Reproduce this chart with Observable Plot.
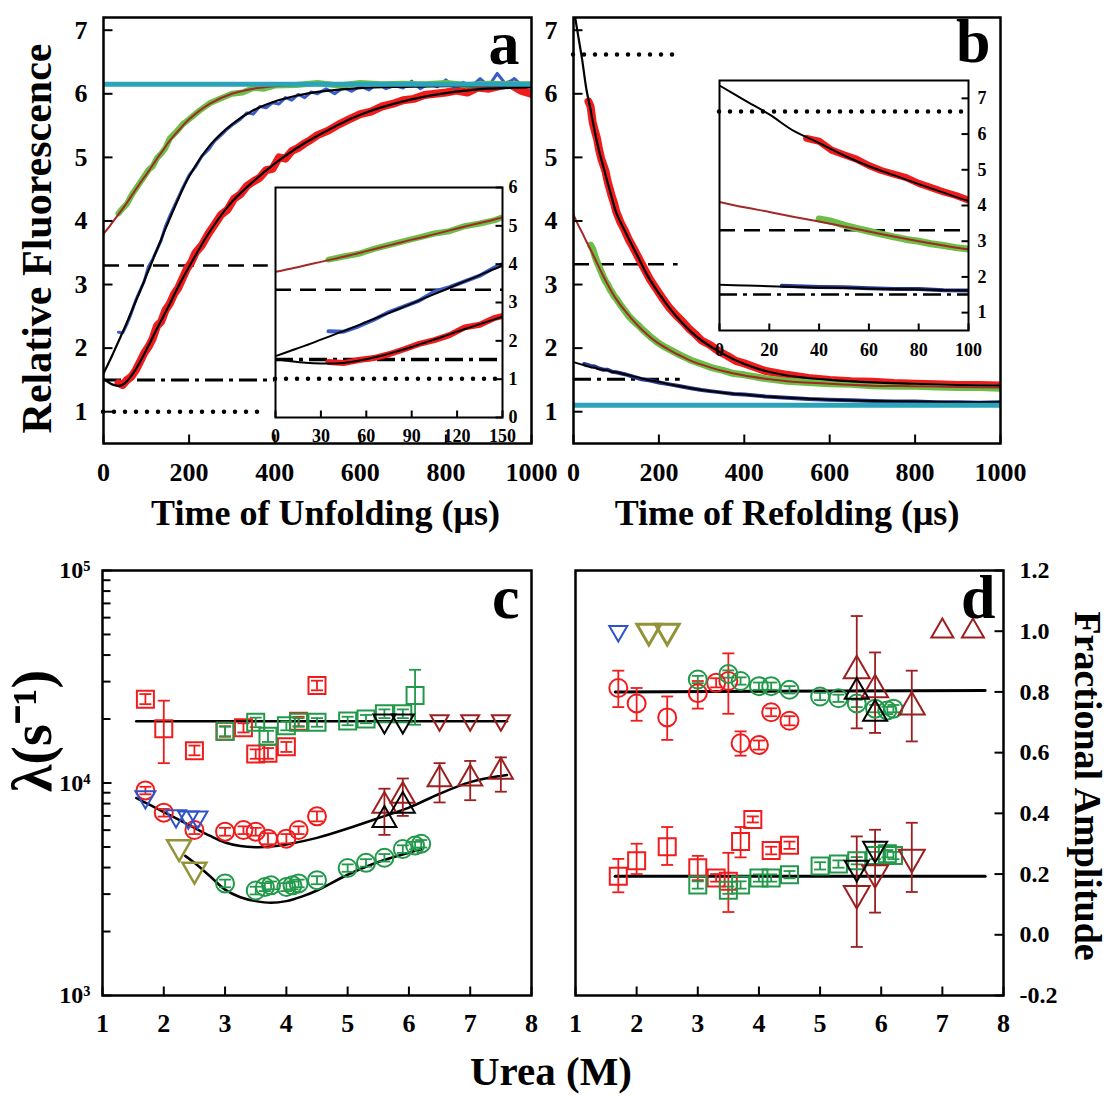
<!DOCTYPE html>
<html><head><meta charset="utf-8">
<script src="https://cdn.jsdelivr.net/npm/d3@7"></script>
<script src="https://cdn.jsdelivr.net/npm/@observablehq/plot@0.6"></script>
<style>
body{margin:0;background:#fff;}
#fig{position:relative;width:1110px;height:1096px;background:#fff;overflow:hidden;}
#urea{position:absolute;left:401px;width:300px;top:1047px;height:42px;line-height:42px;text-align:center;
  font:bold 41px 'Liberation Serif','Times New Roman',serif;color:#000;white-space:nowrap;}
</style></head><body><div id="fig"><div id="urea"></div></div>
<script>
// ---------------- Panel a (unfolding kinetics) ----------------
const aFitT = [0,10,20,30,40,50,60,70,80,90,100,110,120,130,140,150,175,200,250,300,350,400,450,500,600,700,800,900,1000];
const aRedFit = [1.52,1.47,1.43,1.41,1.41,1.45,1.52,1.61,1.72,1.84,1.97,2.10,2.24,2.37,2.50,2.63,2.97,3.28,3.85,4.30,4.62,4.90,5.14,5.34,5.67,5.88,6.01,6.08,6.10];
const aBlueFit = [1.60,1.74,1.88,2.03,2.18,2.33,2.49,2.65,2.81,2.97,3.14,3.30,3.47,3.63,3.80,3.96,4.35,4.70,5.20,5.52,5.74,5.88,5.97,6.03,6.09,6.11,6.12,6.12,6.12];
const aGreenFit = [3.80,3.88,3.97,4.06,4.15,4.24,4.34,4.44,4.54,4.64,4.73,4.83,4.93,5.03,5.12,5.22,5.42,5.60,5.85,6.00,6.08,6.12,6.14,6.15,6.15,6.15,6.15,6.15,6.15];
const aGreenT = [35,45,55,65,75,85,95,105,115,125,135,145,155,170,185,200,225,250,275,300,325,350,375,400,450,500,550,600,650,700,750,800,850,900,950,1000];
const aGreenF = [4.12,4.20,4.27,4.40,4.50,4.60,4.70,4.80,4.86,4.99,5.06,5.15,5.30,5.40,5.52,5.60,5.74,5.86,5.93,6.00,6.02,6.09,6.08,6.13,6.14,6.17,6.13,6.17,6.15,6.16,6.15,6.17,6.14,6.16,6.15,6.15];
const aBlueT = [35,45,55,65,75,85,95,105,115,125,135,145,155,170,185,200,215,230,245,260,275,290,305,320,335,350,365,380,395,410,425,440,455,470,485,500,520,540,560,580,600,620,640,660,680,700,720,740,760,780,800,820,840,860,880,900,920,940,960,980,1000];
const aBlueF = [2.25,2.24,2.38,2.55,2.75,2.90,3.05,3.28,3.40,3.55,3.70,3.92,4.08,4.30,4.52,4.72,4.85,5.02,5.12,5.26,5.35,5.45,5.53,5.60,5.70,5.68,5.80,5.78,5.86,5.84,5.94,5.90,5.99,5.94,6.03,6.00,6.08,6.00,6.10,6.04,6.12,6.06,6.16,6.08,6.13,6.09,6.20,6.08,6.16,6.11,6.22,6.10,6.18,6.12,6.24,6.12,6.32,6.15,6.24,6.12,6.18];
const aRedT = [35,45,55,65,75,85,95,105,115,125,135,145,155,165,175,185,195,205,215,230,245,260,275,290,305,320,335,350,365,380,395,410,425,440,455,470,485,500,525,550,575,600,625,650,675,700,725,750,775,800,825,850,875,900,925,950,975,1000];
const aRedF = [1.45,1.42,1.50,1.55,1.65,1.78,1.92,2.02,2.15,2.35,2.42,2.60,2.70,2.85,2.95,3.10,3.25,3.35,3.50,3.62,3.80,3.95,4.10,4.18,4.35,4.42,4.55,4.62,4.68,4.80,4.82,5.00,4.98,5.10,5.15,5.22,5.28,5.35,5.42,5.52,5.60,5.68,5.72,5.80,5.84,5.90,5.92,5.98,6.00,6.02,6.05,6.02,6.10,6.08,6.12,6.15,6.05,6.00];
const aRefY = [1.0, 1.5, 3.3];
const aRefStart = [0, 0, 0];
const aRefEnd = [380, 400, 385];
const aCyanY = [6.15];
const aInsetRefY = [1.01, 1.51, 3.33];
const aXTicks = [0,200,400,600,800,1000];
const aYTicks = [1,2,3,4,5,6,7];
const aInXTicks = [0,30,60,90,120,150];
const aInYTicks = [0,1,2,3,4,5,6];

// ---------------- Panel b (refolding kinetics) ----------------
const bFitT = [0,10,20,30,40,50,60,70,80,90,100,125,150,175,200,225,250,275,300,350,400,450,500,600,700,800,900,1000];
const bRedFit = [7.36,6.95,6.55,6.08,5.75,5.40,5.10,4.85,4.60,4.36,4.13,3.78,3.45,3.12,2.86,2.63,2.43,2.26,2.12,1.91,1.75,1.64,1.57,1.50,1.46,1.44,1.42,1.41];
const bGreenFit = [4.10,3.95,3.82,3.68,3.55,3.41,3.27,3.13,3.00,2.88,2.77,2.55,2.36,2.20,2.07,1.97,1.88,1.80,1.74,1.64,1.57,1.52,1.48,1.44,1.41,1.40,1.39,1.38];
const bBlueFit = [1.78,1.76,1.74,1.72,1.70,1.69,1.67,1.66,1.65,1.63,1.62,1.58,1.54,1.50,1.47,1.43,1.40,1.37,1.34,1.30,1.27,1.24,1.22,1.19,1.17,1.16,1.15,1.15];
const bRedT = [35,40,45,50,55,60,65,70,75,80,85,90,95,100,110,120,130,140,150,165,180,195,210,225,240,255,270,285,300,320,340,360,380,400,425,450,475,500,550,600,650,700,750,800,850,900,950,1000];
const bRedF = [5.88,5.80,5.55,5.42,5.30,5.12,4.98,4.88,4.78,4.62,4.50,4.38,4.28,4.15,3.98,3.85,3.70,3.58,3.45,3.26,3.07,2.92,2.77,2.63,2.52,2.42,2.31,2.22,2.12,2.05,1.95,1.88,1.80,1.76,1.70,1.64,1.61,1.58,1.53,1.50,1.48,1.47,1.45,1.44,1.43,1.42,1.42,1.41];
const bGreenT = [40,45,50,55,60,65,70,75,80,85,90,95,100,110,120,130,140,150,165,180,195,210,230,250,275,300,325,350,375,400,450,500,550,600,650,700,750,800,850,900,950,1000];
const bGreenF = [3.62,3.56,3.45,3.36,3.28,3.20,3.12,3.05,3.00,2.93,2.88,2.82,2.78,2.68,2.59,2.50,2.43,2.37,2.27,2.18,2.10,2.03,1.96,1.89,1.81,1.75,1.69,1.65,1.60,1.58,1.52,1.48,1.46,1.44,1.43,1.41,1.40,1.40,1.39,1.38,1.38,1.37];
const bBlueT = [25,40,50,60,70,80,90,100,120,140,160,180,200,225,250,275,300,325,350,375,400,450,500,550,600,650,700,750,800,850,900,950,1000];
const bBlueF = [1.75,1.72,1.71,1.68,1.66,1.66,1.63,1.62,1.59,1.55,1.51,1.49,1.46,1.43,1.40,1.37,1.34,1.32,1.30,1.28,1.27,1.24,1.22,1.20,1.19,1.18,1.17,1.16,1.16,1.15,1.15,1.14,1.15];
const bRefY = [6.62, 3.32, 1.51];
const bRefStart = [0, 0, 0];
const bRefEnd = [245, 245, 250];
const bCyanY = [1.1];
const bInsetRefY = [6.63, 3.31, 1.51];
const bInXTicks = [0,20,40,60,80,100];
const bInYTicks = [1,2,3,4,5,6,7];

// ---------------- Panel c (rate constants, log) ----------------
const cRedSqX = [1.7,2.0,2.5,3.0,3.3,3.5,3.7,4.0,4.2,4.5];
const cRedSqY = [24800,18000,14200,17500,18200,13700,13800,14800,19500,28800];
const cRedSqLo = [23500,12400,13500,16500,17300,13000,13000,14000,18500,27300];
const cRedSqHi = [26200,24400,15000,18500,19100,14400,14600,15600,20500,30300];
const cGreenSqX = [3.0,3.5,3.7,4.0,4.2,4.5,5.0,5.3,5.6,5.9,6.1];
const cGreenSqY = [17500,19300,16600,18600,19300,19300,19600,20000,21200,21200,25800];
const cGreenSqLo = [16600,18300,15600,17700,18400,18400,18700,19100,20200,20200,18800];
const cGreenSqHi = [18400,20300,17600,19500,20200,20200,20500,20900,22200,22200,34100];
const cDkRedDownX = [6.5,7.0,7.5];
const cDkRedDownY = [19700,19700,19700];
const cBlackDownX = [5.6,5.9];
const cBlackDownY = [19600,19600];
const cFlatFitX = [1.55,7.6];
const cFlatFitY = [19500,19500];
const cRedCircX = [1.7,2.0,2.5,3.0,3.3,3.5,3.7,4.0,4.2,4.5];
const cRedCircY = [9230,7250,6010,5900,6010,5900,5470,5470,6010,6970];
const cRedCircLo = [8850,6950,5750,5650,5750,5650,5150,5200,5750,6600];
const cRedCircHi = [9600,7550,6250,6150,6250,6150,5800,5750,6250,7350];
const cBlueDownX = [1.7,2.2,2.4,2.55];
const cBlueDownY = [8600,7000,6900,6900];
const cOliveDownX = [2.25,2.5];
const cOliveDownY = [4990,3910];
const cGreenCircX = [3.0,3.5,3.65,3.75,4.0,4.1,4.2,4.5,5.0,5.3,5.6,5.9,6.1,6.2];
const cGreenCircY = [3370,3120,3240,3300,3240,3300,3370,3490,3980,4210,4450,4890,5080,5180];
const cGreenCircLo = [3230,2990,3100,3160,3100,3160,3230,3340,3820,4040,4270,4690,4870,4970];
const cGreenCircHi = [3510,3250,3380,3440,3380,3440,3510,3640,4140,4380,4630,5090,5290,5390];
const cDkRedUpX = [5.6,5.9,6.5,7.0,7.5];
const cDkRedUpY = [7800,8700,10400,10500,11300];
const cDkRedUpLo = [5700,7000,8100,8300,9100];
const cDkRedUpHi = [9400,10500,12400,12700,13200];
const cBlackUpX = [5.6,5.9];
const cBlackUpY = [6700,7800];
const cFitUpX = [1.55,1.75,2.0,2.25,2.5,2.75,3.0,3.25,3.5,3.75,4.0,4.5,5.0,5.5,6.0,6.5,7.0,7.5,7.6];
const cFitUpY = [8500,7950,7300,6700,6150,5650,5250,5050,4990,5020,5140,5520,6110,6830,7660,8900,10100,10800,10900];
const cFitLowX = [2.35,2.5,2.75,3.0,3.25,3.5,3.75,4.0,4.25,4.5,5.0,5.5,6.0,6.2];
const cFitLowY = [4540,4210,3650,3150,2900,2780,2730,2780,2920,3120,3700,4250,4700,4880];
const cXTicks = [1,2,3,4,5,6,7,8];
const cYMajor = [1e3,1e4,1e5];
const cYMinor = [2e3,3e3,4e3,5e3,6e3,7e3,8e3,9e3,2e4,3e4,4e4,5e4,6e4,7e4,8e4,9e4];
const cYLabels = ["10³","10⁴","10⁵"];

// ---------------- Panel d (fractional amplitudes) ----------------
const dBlueDownX = [1.7];
const dBlueDownY = [1.0];
const dOliveDownX = [2.2,2.5];
const dOliveDownY = [1.0,1.0];
const dDkRedTopX = [7.0,7.5];
const dDkRedTopY = [1.0,1.0];
const dRedCircX = [1.7,2.0,2.5,3.0,3.3,3.5,3.7,4.0,4.2,4.5];
const dRedCircY = [0.813,0.762,0.716,0.796,0.83,0.836,0.631,0.625,0.733,0.705];
const dRedCircLo = [0.75,0.705,0.642,0.745,0.815,0.728,0.59,0.61,0.72,0.69];
const dRedCircHi = [0.87,0.813,0.785,0.836,0.845,0.927,0.67,0.64,0.746,0.72];
const dGreenCircX = [3.0,3.5,3.7,4.0,4.2,4.5,5.0,5.3,5.6,5.9,6.1,6.2];
const dGreenCircY = [0.841,0.859,0.836,0.819,0.819,0.807,0.785,0.779,0.762,0.745,0.739,0.745];
const dGreenCircLo = [0.829,0.847,0.824,0.807,0.807,0.795,0.773,0.767,0.75,0.733,0.727,0.733];
const dGreenCircHi = [0.853,0.871,0.848,0.831,0.831,0.819,0.797,0.791,0.774,0.757,0.751,0.757];
const dDkRedUpX = [5.6,5.9,6.5];
const dDkRedUpY = [0.87,0.807,0.75];
const dDkRedUpLo = [0.68,0.665,0.637];
const dDkRedUpHi = [1.05,0.93,0.87];
const dBlackUpX = [5.6,5.9];
const dBlackUpY = [0.80,0.728];
const dFitUpX = [1.65,7.7];
const dFitUpY = [0.80,0.805];
const dRedSqX = [1.7,2.0,2.5,3.0,3.3,3.5,3.7,3.9,4.2,4.5];
const dRedSqY = [0.193,0.244,0.29,0.221,0.187,0.176,0.307,0.38,0.278,0.295];
const dRedSqLo = [0.14,0.2,0.23,0.18,0.175,0.075,0.255,0.37,0.265,0.283];
const dRedSqHi = [0.25,0.3,0.355,0.26,0.2,0.27,0.355,0.39,0.29,0.307];
const dGreenSqX = [3.0,3.5,3.7,4.0,4.2,4.5,5.0,5.3,5.6,5.9,6.1,6.2];
const dGreenSqY = [0.164,0.147,0.164,0.187,0.187,0.198,0.227,0.233,0.244,0.261,0.267,0.261];
const dGreenSqLo = [0.152,0.135,0.152,0.175,0.175,0.186,0.215,0.221,0.232,0.249,0.255,0.249];
const dGreenSqHi = [0.176,0.159,0.176,0.199,0.199,0.21,0.239,0.245,0.256,0.273,0.279,0.273];
const dDkRedDownX = [5.6,5.9,6.5];
const dDkRedDownY = [0.136,0.204,0.255];
const dDkRedDownLo = [-0.04,0.073,0.141];
const dDkRedDownHi = [0.324,0.346,0.369];
const dBlackDownX = [5.6,5.9];
const dBlackDownY = [0.221,0.284];
const dFitLowX = [1.65,7.7];
const dFitLowY = [0.193,0.193];
const dXTicks = [1,2,3,4,5,6,7,8];
const dYTicks = [-0.2,0,0.2,0.4,0.6,0.8,1.0,1.2];
const sharedXTitle = "Urea (M)";

// ---------------- styles ----------------
const SERIF = "'Liberation Serif','Times New Roman',serif";
const RED = "#f01c1c", GREEN_T = "#6cbf46", BLUE_T = "#3a5cc8", NAVY = "#27388f",
      CYAN = "#2ba3b8", BROWN = "#a32828", GREEN_M = "#22994a", DKRED = "#9c1f1f",
      OLIVE = "#93933a", BLUE_M = "#2f52c9";
const DOT = "0 11", DASH = "16 9", DASHDOT = "18 6 4 6";

// custom symbols (pixel-sized)
const seg = (x2, y2) => ({draw(c){ c.moveTo(0,0); c.lineTo(x2,y2); }});
const hcap = w => ({draw(c){ c.moveTo(-w,0); c.lineTo(w,0); }});
const sq = a => ({draw(c){ c.moveTo(-a/2,-a/2); c.lineTo(a/2,-a/2); c.lineTo(a/2,a/2); c.lineTo(-a/2,a/2); c.closePath(); }});
const circ = r => ({draw(c){ c.moveTo(r,0); c.arc(0,0,r,0,2*Math.PI); }});
const tri = (a, down) => ({draw(c){ const h = a*Math.sqrt(3)/2, s = down ? -1 : 1;
  c.moveTo(0,-s*2*h/3); c.lineTo(a/2,s*h/3); c.lineTo(-a/2,s*h/3); c.closePath(); }});

const fig = document.getElementById("fig");
function place(svg, left, top){
  svg.style.position = "absolute"; svg.style.left = left + "px"; svg.style.top = top + "px";
  svg.style.background = "none"; svg.style.overflow = "visible"; svg.style.maxWidth = "none";
  fig.appendChild(svg);
}
function refLines(ys, starts, ends, dashes, widths){
  return ys.map((y, i) => Plot.ruleY([y], {x1: [starts[i]], x2: [ends[i]], stroke: "black",
    strokeWidth: widths[i], strokeDasharray: dashes[i], strokeLinecap: dashes[i] === DOT ? "round" : "butt"}));
}
function markers(xs, ys, symbol, color, sw = 2){
  return Plot.dot(ys, {x: xs, y: ys, symbol, stroke: color, fill: "none", strokeWidth: sw});
}
function errbars(xs, lo, hi, color){
  return [
    Plot.ruleX(xs, {x: xs, y1: lo, y2: hi, stroke: color, strokeWidth: 1.8}),
    Plot.dot(lo, {x: xs, y: lo, symbol: hcap(6), stroke: color, fill: "none", strokeWidth: 1.8}),
    Plot.dot(hi, {x: xs, y: hi, symbol: hcap(6), stroke: color, fill: "none", strokeWidth: 1.8})
  ];
}
function trace(xs, ys, color, w){
  return Plot.line(ys, {x: xs, y: ys, stroke: color, strokeWidth: w, strokeLinejoin: "round", strokeLinecap: "round", clip: true});
}
function fit(xs, ys, color, w = 2){
  return Plot.line(ys, {x: xs, y: ys, stroke: color, strokeWidth: w, curve: "catmull-rom", clip: true});
}
function inwardTicks(xt, yt, yAnchor, len = 9){
  const m = [];
  if (xt) m.push(Plot.dot(xt, {x: d => d, frameAnchor: "bottom", symbol: seg(0,-len), stroke: "black", fill: "none", strokeWidth: 2}));
  if (yt) m.push(Plot.dot(yt, {y: d => d, frameAnchor: yAnchor, symbol: seg(yAnchor === "left" ? len : -len, 0), stroke: "black", fill: "none", strokeWidth: 2}));
  return m;
}
const title = (txt, opts) => Plot.text([txt], {text: d => d, fontFamily: SERIF, fontWeight: "bold", fill: "black",
  textAnchor: "middle", lineAnchor: "middle", ...opts});
const fmtInt = d => String(d);

// ---------------- Panel a ----------------
place(Plot.plot({
  width: 560, height: 545, marginLeft: 103, marginRight: 29, marginTop: 17, marginBottom: 102,
  x: {domain: [0, 1000]}, y: {domain: [0.5, 7.2]},
  style: {font: `bold 26px ${SERIF}`, background: "none", overflow: "visible"},
  marks: [
    ...refLines(aRefY, aRefStart, aRefEnd, [DOT, DASHDOT, DASH], [4.5, 3, 2.5]),
    trace(aRedT, aRedF, RED, 8),
    trace(aBlueT, aBlueF, BLUE_T, 3),
    trace(aGreenT, aGreenF, GREEN_T, 6),
    fit(aFitT, aRedFit, "black", 2.2),
    fit(aFitT, aBlueFit, "black", 2.2),
    fit(aFitT, aGreenFit, BROWN, 2),
    Plot.ruleY(aCyanY, {stroke: CYAN, strokeWidth: 5}),
    Plot.frame({stroke: "black", strokeWidth: 2.5}),
    Plot.axisX(aXTicks, {tickSize: 0, tickPadding: 19, label: null, fontSize: 26, tickFormat: fmtInt}),
    Plot.axisY(aYTicks, {tickSize: 0, tickPadding: 16, label: null, fontSize: 26, tickFormat: fmtInt}),
    ...inwardTicks(aXTicks, aYTicks, "left"),
    title("a", {frameAnchor: "top-right", textAnchor: "end", dx: -12, dy: 27, fontSize: 62}),
    title("Time of Unfolding (μs)", {frameAnchor: "bottom", dx: 8, dy: 70, fontSize: 36}),
    title("Relative Fluorescence", {frameAnchor: "left", dx: -66, dy: 8, rotate: -90, fontSize: 42})
  ]
}), 0, 0);

// inset a
place(Plot.plot({
  width: 290, height: 285, marginLeft: 20, marginRight: 43, marginTop: 12, marginBottom: 43,
  x: {domain: [0, 150]}, y: {domain: [0, 6]},
  style: {font: `bold 18px ${SERIF}`, background: "none", overflow: "visible"},
  marks: [
    Plot.frame({fill: "white", stroke: "none"}),
    ...refLines(aInsetRefY, [0,0,0], [150,150,150], [DOT, DASHDOT, DASH], [4.5, 3.5, 2.5]),
    trace(aRedT, aRedF, RED, 6),
    trace(aBlueT, aBlueF, BLUE_T, 4),
    trace(aGreenT, aGreenF, GREEN_T, 6),
    fit(aFitT, aRedFit, "black", 2),
    fit(aFitT, aBlueFit, "black", 2),
    fit(aFitT, aGreenFit, BROWN, 2),
    Plot.frame({stroke: "black", strokeWidth: 2}),
    Plot.axisX(aInXTicks, {tickSize: 0, tickPadding: 12, label: null, fontSize: 18, tickFormat: fmtInt}),
    Plot.axisY(aInYTicks, {anchor: "right", tickSize: 0, tickPadding: 6, label: null, fontSize: 18, tickFormat: fmtInt}),
    ...inwardTicks(aInXTicks, aInYTicks, "right", 7)
  ]
}), 255, 175);

// ---------------- Panel b ----------------
place(Plot.plot({
  width: 565, height: 545, marginLeft: 28, marginRight: 110, marginTop: 17, marginBottom: 102,
  x: {domain: [0, 1000]}, y: {domain: [0.5, 7.2]},
  style: {font: `bold 26px ${SERIF}`, background: "none", overflow: "visible"},
  marks: [
    ...refLines(bRefY, bRefStart, bRefEnd, [DOT, DASH, DASHDOT], [4.5, 2.5, 3]),
    trace(bRedT, bRedF, RED, 8),
    trace(bGreenT, bGreenF, GREEN_T, 7),
    trace(bBlueT, bBlueF, NAVY, 4),
    fit(bFitT, bRedFit, "black", 2.2),
    fit(bFitT, bGreenFit, BROWN, 2),
    fit(bFitT, bBlueFit, "black", 2),
    Plot.ruleY(bCyanY, {stroke: CYAN, strokeWidth: 5}),
    Plot.frame({stroke: "black", strokeWidth: 2.5}),
    Plot.axisX(aXTicks, {tickSize: 0, tickPadding: 19, label: null, fontSize: 26, tickFormat: fmtInt}),
    Plot.axisY(aYTicks, {tickSize: 0, tickPadding: 16, label: null, fontSize: 26, tickFormat: fmtInt}),
    ...inwardTicks(aXTicks, aYTicks, "left"),
    title("b", {frameAnchor: "top-right", textAnchor: "end", dx: -10, dy: 25, fontSize: 62}),
    title("Time of Refolding (μs)", {frameAnchor: "bottom", dx: 0, dy: 70, fontSize: 36})
  ]
}), 545, 0);

// inset b
place(Plot.plot({
  width: 300, height: 300, marginLeft: 20, marginRight: 31, marginTop: 12, marginBottom: 38,
  x: {domain: [0, 100]}, y: {domain: [0.5, 7.5]},
  style: {font: `bold 18px ${SERIF}`, background: "none", overflow: "visible"},
  marks: [
    Plot.frame({fill: "white", stroke: "none"}),
    ...refLines(bInsetRefY, [0,0,0], [100,100,100], [DOT, DASH, DASHDOT], [4.5, 2.5, 2.5]),
    trace(bRedT, bRedF, RED, 7),
    trace(bGreenT, bGreenF, GREEN_T, 7),
    trace(bBlueT, bBlueF, NAVY, 4),
    fit(bFitT, bRedFit, "black", 2),
    fit(bFitT, bGreenFit, BROWN, 2),
    fit(bFitT, bBlueFit, "black", 2),
    Plot.frame({stroke: "black", strokeWidth: 2}),
    Plot.axisX(bInXTicks, {tickSize: 0, tickPadding: 13, label: null, fontSize: 18, tickFormat: fmtInt}),
    Plot.axisY(bInYTicks, {anchor: "right", tickSize: 0, tickPadding: 9, label: null, fontSize: 18, tickFormat: fmtInt}),
    ...inwardTicks(bInXTicks, bInYTicks, "right", 7)
  ]
}), 699, 68);

// ---------------- Panel c ----------------
place(Plot.plot({
  width: 560, height: 546, marginLeft: 102, marginRight: 29, marginTop: 20, marginBottom: 101,
  x: {domain: [1, 8]}, y: {type: "log", domain: [1e3, 1e5]},
  style: {font: `bold 26px ${SERIF}`, background: "none", overflow: "visible"},
  marks: [
    fit(cFlatFitX, cFlatFitY, "black", 2.5),
    fit(cFitUpX, cFitUpY, "black", 2.5),
    fit(cFitLowX, cFitLowY, "black", 2.5),
    ...errbars(cRedSqX, cRedSqLo, cRedSqHi, RED),
    ...errbars(cGreenSqX, cGreenSqLo, cGreenSqHi, GREEN_M),
    ...errbars(cRedCircX, cRedCircLo, cRedCircHi, RED),
    ...errbars(cGreenCircX, cGreenCircLo, cGreenCircHi, GREEN_M),
    ...errbars(cDkRedUpX, cDkRedUpLo, cDkRedUpHi, DKRED),
    markers(cRedSqX, cRedSqY, sq(17), RED),
    markers(cGreenSqX, cGreenSqY, sq(17), GREEN_M),
    markers(cRedCircX, cRedCircY, circ(9), RED),
    markers(cGreenCircX, cGreenCircY, circ(9), GREEN_M),
    markers(cBlueDownX, cBlueDownY, tri(20, true), BLUE_M),
    markers(cOliveDownX, cOliveDownY, tri(24, true), OLIVE, 2.5),
    markers(cDkRedDownX, cDkRedDownY, tri(18, true), DKRED),
    markers(cBlackDownX, cBlackDownY, tri(22, true), "black"),
    markers(cDkRedUpX, cDkRedUpY, tri(24, false), DKRED),
    markers(cBlackUpX, cBlackUpY, tri(24, false), "black"),
    Plot.frame({stroke: "black", strokeWidth: 2.5}),
    Plot.axisX(cXTicks, {tickSize: 0, tickPadding: 18, label: null, fontSize: 26, tickFormat: fmtInt}),
    Plot.axisY(cYMajor, {tickSize: 0, tickPadding: 12, label: null, fontSize: 24, tickFormat: d => cYLabels[cYMajor.indexOf(d)]}),
    ...inwardTicks(cXTicks, cYMajor, "left"),
    ...inwardTicks(null, cYMinor, "left", 8),
    title("c", {frameAnchor: "top-right", textAnchor: "end", dx: -12, dy: 28, fontSize: 62}),
    title("λ(s⁻¹)", {frameAnchor: "left", dx: -69, dy: -52, rotate: -90, fontSize: 56})
  ]
}), 0, 550);

// ---------------- Panel d ----------------
place(Plot.plot({
  width: 565, height: 546, marginLeft: 30, marginRight: 107, marginTop: 20, marginBottom: 101,
  x: {domain: [1, 8]}, y: {domain: [-0.2, 1.2]},
  style: {font: `bold 26px ${SERIF}`, background: "none", overflow: "visible"},
  marks: [
    fit(dFitUpX, dFitUpY, "black", 3),
    fit(dFitLowX, dFitLowY, "black", 3),
    ...errbars(dRedCircX, dRedCircLo, dRedCircHi, RED),
    ...errbars(dGreenCircX, dGreenCircLo, dGreenCircHi, GREEN_M),
    ...errbars(dDkRedUpX, dDkRedUpLo, dDkRedUpHi, DKRED),
    ...errbars(dRedSqX, dRedSqLo, dRedSqHi, RED),
    ...errbars(dGreenSqX, dGreenSqLo, dGreenSqHi, GREEN_M),
    ...errbars(dDkRedDownX, dDkRedDownLo, dDkRedDownHi, DKRED),
    markers(dRedCircX, dRedCircY, circ(9), RED),
    markers(dGreenCircX, dGreenCircY, circ(9), GREEN_M),
    markers(dRedSqX, dRedSqY, sq(17), RED),
    markers(dGreenSqX, dGreenSqY, sq(17), GREEN_M),
    markers(dDkRedUpX, dDkRedUpY, tri(26, false), DKRED),
    markers(dBlackUpX, dBlackUpY, tri(24, false), "black"),
    markers(dDkRedDownX, dDkRedDownY, tri(26, true), DKRED),
    markers(dBlackDownX, dBlackDownY, tri(24, true), "black"),
    markers(dBlueDownX, dBlueDownY, tri(18, true), BLUE_M),
    markers(dOliveDownX, dOliveDownY, tri(24, true), OLIVE, 3),
    markers(dDkRedTopX, dDkRedTopY, tri(22, false), DKRED),
    Plot.frame({stroke: "black", strokeWidth: 2.5}),
    Plot.axisX(dXTicks, {tickSize: 0, tickPadding: 18, label: null, fontSize: 26, tickFormat: fmtInt}),
    Plot.axisY(dYTicks, {anchor: "right", tickSize: 0, tickPadding: 16, label: null, fontSize: 24, tickFormat: d => d.toFixed(1)}),
    ...inwardTicks(dXTicks, dYTicks, "right"),
    title("d", {frameAnchor: "top-right", textAnchor: "end", dx: -8, dy: 28, fontSize: 62}),
    title("Fractional Amplitude", {frameAnchor: "right", dx: 84, dy: 3, rotate: 90, fontSize: 38})
  ]
}), 545, 550);

// shared x-axis title for panels c and d
document.getElementById("urea").textContent = sharedXTitle;
</script></body></html>
